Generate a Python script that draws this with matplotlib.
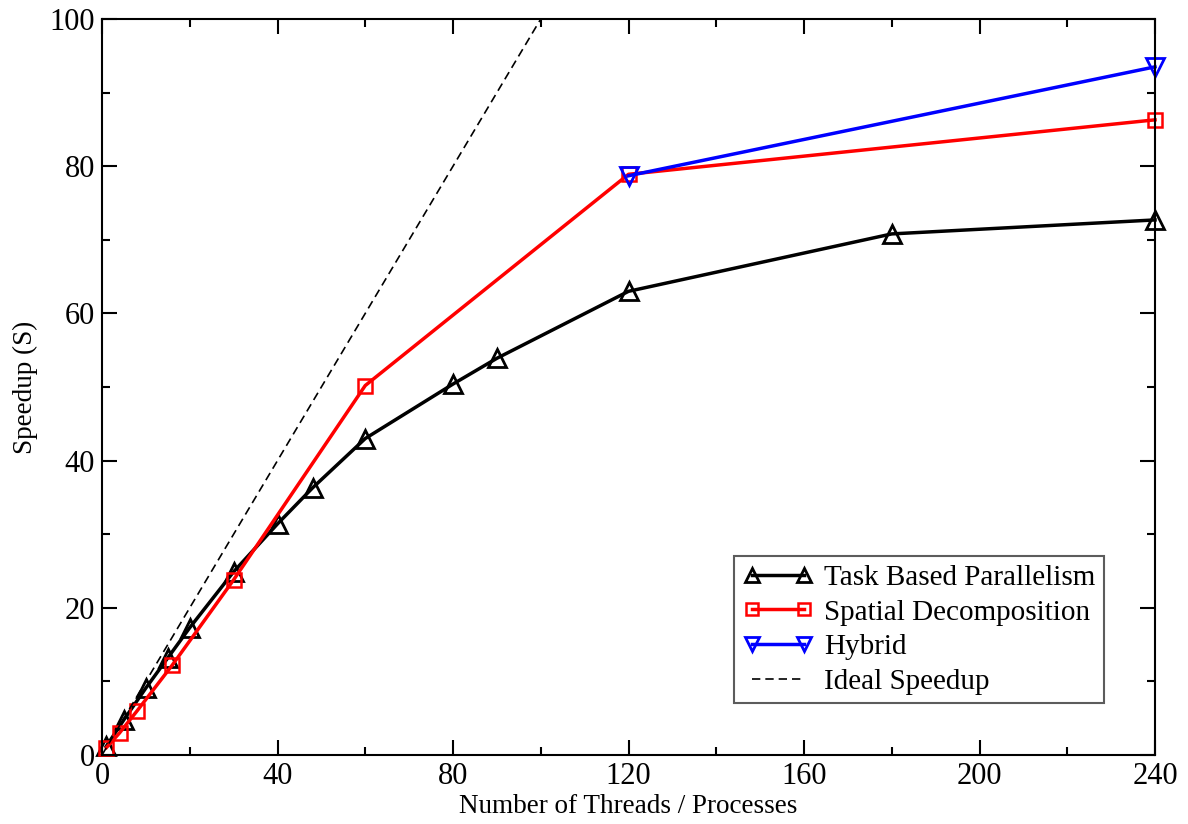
import matplotlib
matplotlib.use("Agg")
import matplotlib.pyplot as plt
from matplotlib.ticker import MultipleLocator

plt.rcParams['font.family'] = ['Liberation Serif', 'DejaVu Serif']

task_x = [1, 5, 10, 15, 20, 30, 40, 48, 60, 80, 90, 120, 180, 240]
task_y = [1.2, 4.8, 9.1, 13.2, 17.3, 24.9, 31.4, 36.3, 43.0, 50.4, 53.9, 63.0, 70.8, 72.7]

spatial_x = [1, 4, 8, 16, 30, 60, 120, 240]
spatial_y = [1.0, 3.0, 6.0, 12.2, 23.8, 50.2, 78.9, 86.3]

hybrid_x = [120, 240]
hybrid_y = [78.7, 93.5]

ideal_x = [0, 100]
ideal_y = [0, 100]

fig = plt.figure(figsize=(11.88, 8.24), dpi=100)
ax = fig.add_axes([102/1188, 1-755/824, (1155-102)/1188, (755-19)/824])

ax.plot(task_x, task_y, color='black', lw=2.5, marker='^', ms=13, mfc='none',
        mec='black', mew=2, label='Task Based Parallelism', clip_on=False)
ax.plot(spatial_x, spatial_y, color='red', lw=2.5, marker='s', ms=10, mfc='none',
        mec='red', mew=1.8, label='Spatial Decomposition', clip_on=False)
ax.plot(hybrid_x, hybrid_y, color='blue', lw=2.5, marker='v', ms=13, mfc='none',
        mec='blue', mew=2, label='Hybrid', clip_on=False)
ax.plot(ideal_x, ideal_y, color='black', lw=1.2, ls=(0, (5, 3)), label='Ideal Speedup')

ax.set_xlim(0, 240)
ax.set_ylim(0, 100)
ax.xaxis.set_major_locator(MultipleLocator(40))
ax.xaxis.set_minor_locator(MultipleLocator(20))
ax.yaxis.set_major_locator(MultipleLocator(20))
ax.yaxis.set_minor_locator(MultipleLocator(10))
ax.tick_params(which='both', direction='in', top=True, right=True, width=1.5,
               labelsize=22, pad=5)
ax.tick_params(which='major', length=11)
ax.tick_params(which='minor', length=6)
for s in ax.spines.values():
    s.set_linewidth(1.5)

ax.set_xlabel('Number of Threads / Processes', fontsize=19.5, labelpad=2)
ax.set_ylabel('Speedup (S)', fontsize=19.5, labelpad=8)

leg = ax.legend(loc='lower right', bbox_to_anchor=(0.952, 0.07), fontsize=21,
                frameon=True, fancybox=False, edgecolor='#333333', handlelength=2.4,
                numpoints=2, markerscale=0.8,
                borderpad=0.3, labelspacing=0.28, handletextpad=0.4, borderaxespad=0)
leg.get_frame().set_linewidth(1.5)

fig.savefig('out.png', dpi=100)
